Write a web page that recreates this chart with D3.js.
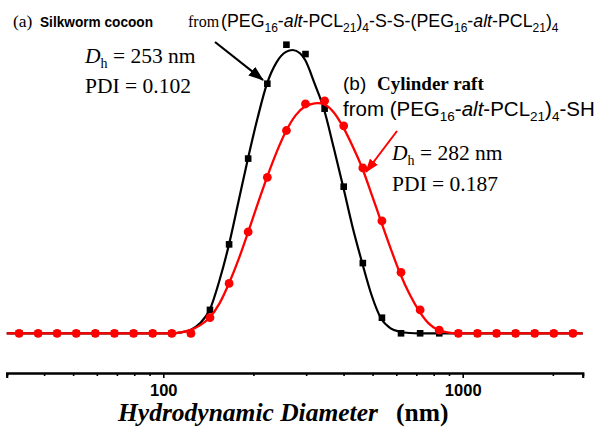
<!DOCTYPE html>
<html><head><meta charset="utf-8">
<script src="https://cdn.jsdelivr.net/npm/d3@7"></script>
<style>body{margin:0;background:#fff}svg{display:block}</style>
</head><body>
<svg id="c" width="595" height="427"></svg>
<script>
// DLS size bins (nm)
const diameters = [33.0, 38.2, 44.2, 51.2, 59.3, 68.7, 79.6, 92.2, 106.8, 123.7, 143.2, 165.9, 192.1, 222.6, 257.8, 298.5, 345.8, 400.5, 463.9, 537.3, 622.3, 720.8, 834.9, 967, 1120, 1297, 1502, 1740, 2015, 2334];
// (a) silkworm cocoon, intensity %
const cocoonIntensity = [0,0,0,0,0,0,0,0,0,0, 1.5,5.7,11.2,16.0,18.5,17.9,14.4,9.4,4.5,1.0, 0,0,0,0,0,0,0,0,0,0];
// (b) cylinder raft, intensity %
const raftIntensity = [0,0,0,0,0,0,0,0,0,0, 1.0,3.2,6.5,10.0,13.0,14.7,14.9,13.3,10.6,7.2, 3.9,1.5,0.2,0,0,0,0,0,0,0];
// fitted curves
const cocoonFitD = [30,106.7,114.6,123.4,132.6,143.2,154.1,165.8,178.4,191.9,206.4,222.0,238.9,256.9,270.5,286.1,298.1,320.2,344.1,370.6,399.2,428.9,462.0,496.3,533.5,574.3,617.4,664.8,716.3,2516];
const cocoonFitI = [0,0,0.06,0.22,0.64,1.54,3.4,5.7,8.46,11.22,13.78,16.0,17.37,18.04,18.16,17.95,17.5,16.0,14.36,11.92,9.36,6.8,4.49,2.44,0.96,0.32,0.1,0.02,0,0];
const raftFitD = [30,106.7,114.6,123.4,132.6,143.2,154.1,165.8,178.4,191.9,206.4,222.0,238.9,256.9,276.6,298.1,320.2,328.6,344.1,370.6,399.2,428.9,462.0,496.3,533.5,574.3,617.4,664.8,716.3,769.4,827.1,889.7,957.2,2516];
const raftFitI = [0,0,0.06,0.22,0.51,1.03,1.92,3.21,4.74,6.47,8.27,10.0,11.6,12.95,13.97,14.55,14.74,14.76,14.68,14.17,13.2,11.99,10.58,8.91,7.18,5.45,3.85,2.5,1.41,0.64,0.22,0.06,0,0];
const majorTicks = [100, 1000];
const minorTicks = [30,40,50,60,70,80,90,200,300,400,500,600,700,800,900,2000];
const xDomain = [30, 2516];

const svg = d3.select("#c");
const x = d3.scaleLog().domain(xDomain).range([6.7, 582.7]);
const y = d3.scaleLinear().domain([0, 20]).range([333.3, 21.3]);

// axis
const axisY = 373;
const gMinor = svg.append("g").attr("transform", `translate(0,${axisY})`)
  .call(d3.axisBottom(x).tickValues(minorTicks).tickSize(3).tickFormat(""));
const gMajor = svg.append("g").attr("transform", `translate(0,${axisY})`)
  .call(d3.axisBottom(x).tickValues(majorTicks).tickSize(5).tickPadding(6).tickFormat(d3.format("d")));
[gMinor, gMajor].forEach(g => {
  g.select(".domain").attr("stroke", "#000").attr("stroke-width", 2.2);
  g.selectAll(".tick line").attr("stroke", "#000").attr("stroke-width", 1.6);
});
gMajor.selectAll(".tick text").attr("font-family", "Liberation Sans, Arial, sans-serif")
  .attr("font-weight", "bold").attr("font-size", 16.5).attr("fill", "#000");

// lines
const line = d3.line().x(d => x(d[0])).y(d => y(d[1])).curve(d3.curveMonotoneX);
svg.append("path").datum(d3.zip(cocoonFitD, cocoonFitI)).attr("d", line)
  .attr("fill", "none").attr("stroke", "#000").attr("stroke-width", 2.2);
const sq = 6.6;
svg.append("g").selectAll("rect").data(d3.zip(diameters, cocoonIntensity)).join("rect")
  .attr("x", d => x(d[0]) - sq/2).attr("y", d => y(d[1]) - sq/2)
  .attr("width", sq).attr("height", sq).attr("fill", "#000");
svg.append("path").datum(d3.zip(raftFitD, raftFitI)).attr("d", line)
  .attr("fill", "none").attr("stroke", "#ff0000").attr("stroke-width", 2.3);
svg.append("g").selectAll("circle").data(d3.zip(diameters, raftIntensity)).join("circle")
  .attr("cx", d => x(d[0])).attr("cy", d => y(d[1])).attr("r", 4.4).attr("fill", "#ff0000");

// arrows
const defs = svg.append("defs");
function marker(id, color) {
  defs.append("marker").attr("id", id).attr("viewBox", "0 0 14 10").attr("refX", 13).attr("refY", 5)
    .attr("markerWidth", 7).attr("markerHeight", 5).attr("markerUnits", "strokeWidth").attr("orient", "auto")
    .append("path").attr("d", "M0,0 L14,5 L0,10 z").attr("fill", color);
}
marker("ab", "#000"); marker("ar", "#ff0000");
svg.append("line").attr("x1", 215).attr("y1", 42).attr("x2", 263).attr("y2", 80)
  .attr("stroke", "#000").attr("stroke-width", 2.2).attr("marker-end", "url(#ab)");
svg.append("line").attr("x1", 397).attr("y1", 131).attr("x2", 366).attr("y2", 172)
  .attr("stroke", "#ff0000").attr("stroke-width", 2).attr("marker-end", "url(#ar)");

const SERIF = "Liberation Serif, Times New Roman, serif";
const SANS = "Liberation Sans, Arial, sans-serif";
function rich(parent, xx, yy, parts) {
  const t = parent.append("text").attr("x", xx).attr("y", yy).attr("fill", "#000");
  parts.forEach(p => {
    const s = t.append("tspan").text(p.t).attr("font-family", p.f || SANS).attr("font-size", p.s || 16);
    if (p.w) s.attr("font-weight", p.w);
    if (p.i) s.attr("font-style", "italic");
    if (p.dy) s.attr("dy", p.dy);
  });
  return t;
}
// title line (a)
rich(svg, 13, 27, [{t: "(a)", f: SERIF, s: 17.5}]);
rich(svg, 40, 27, [{t: "Silkworm cocoon", w: "bold", s: 15}])
  .attr("textLength", 113).attr("lengthAdjust", "spacingAndGlyphs");
rich(svg, 188, 27, [{t: "from", f: SERIF, s: 16}]);
rich(svg, 221, 27, [
  {t: "(PEG", s: 17.8}, {t: "16", s: 12, dy: 5}, {t: "-", s: 17.8, dy: -5}, {t: "alt", s: 17.8, i: true},
  {t: "-PCL", s: 17.8}, {t: "21", s: 12, dy: 5}, {t: ")", s: 17.8, dy: -5}, {t: "4", s: 12, dy: 5},
  {t: "-S-S-(PEG", s: 17.8, dy: -5}, {t: "16", s: 12, dy: 5}, {t: "-", s: 17.8, dy: -5}, {t: "alt", s: 17.8, i: true},
  {t: "-PCL", s: 17.8}, {t: "21", s: 12, dy: 5}, {t: ")", s: 17.8, dy: -5}, {t: "4", s: 12, dy: 5}
]);
rich(svg, 85, 63, [
  {t: "D", f: SERIF, s: 21.5, i: true}, {t: "h", f: SERIF, s: 14, dy: 5}, {t: " = 253 nm", f: SERIF, s: 21.5, dy: -5}
]);
rich(svg, 85, 93, [{t: "PDI = 0.102", f: SERIF, s: 21.5}]);
// (b)
rich(svg, 343, 90, [{t: "(b)", s: 19}]);
rich(svg, 377, 90, [{t: "Cylinder raft", f: SERIF, w: "bold", s: 19}]);
rich(svg, 343, 116, [
  {t: "from (PEG", s: 20.5}, {t: "16", s: 13.5, dy: 5}, {t: "-", s: 20.5, dy: -5}, {t: "alt", s: 20.5, i: true},
  {t: "-PCL", s: 20.5}, {t: "21", s: 13.5, dy: 5}, {t: ")", s: 20.5, dy: -5}, {t: "4", s: 13.5, dy: 5},
  {t: "-SH", s: 20.5, dy: -5}
]);
rich(svg, 392, 160, [
  {t: "D", f: SERIF, s: 21.5, i: true}, {t: "h", f: SERIF, s: 14, dy: 5}, {t: " = 282 nm", f: SERIF, s: 21.5, dy: -5}
]);
rich(svg, 392, 191, [{t: "PDI = 0.187", f: SERIF, s: 21.5}]);

// x label
rich(svg, 118, 421.3, [{t: "Hydrodynamic Diameter", f: SERIF, s: 25.5, w: "bold", i: true}]);
rich(svg, 396, 421.3, [{t: "(nm)", f: SERIF, s: 25.5, w: "bold"}]);
</script>
</body></html>
